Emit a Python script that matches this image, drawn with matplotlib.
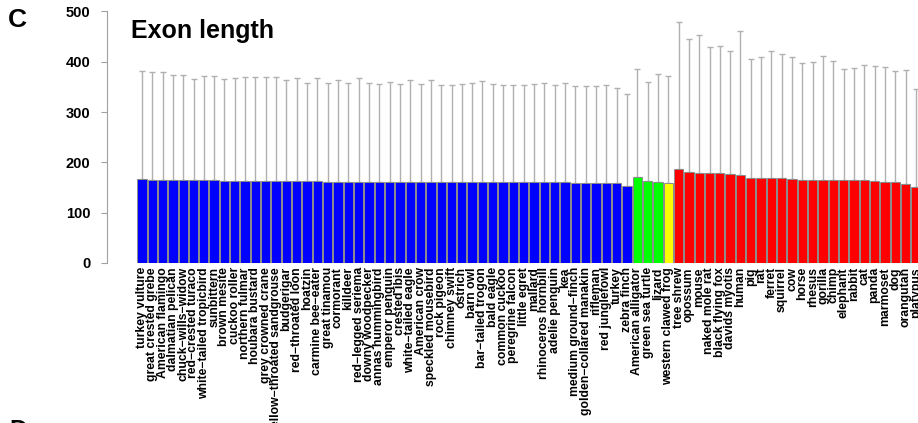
import matplotlib
matplotlib.use("Agg")
import matplotlib.pyplot as plt
import numpy as np

plt.rcParams["font.family"] = ["Liberation Sans", "DejaVu Sans"]
plt.rcParams["font.weight"] = "bold"

# Species, grouped by class (birds, reptiles, amphibian, mammals)
birds = [
    "turkey vulture", "great crested grebe", "American flamingo", "dalmatian pelican",
    "chuck\u2212wills\u2212widow", "red\u2212crested turaco", "white\u2212tailed tropicbird",
    "sunbittern", "brown mesite", "cuckoo roller", "northern fulmar", "houbara bustard",
    "grey crowned crane", "yellow\u2212throated sandgrouse", "budgerigar",
    "red\u2212throated loon", "hoatzin", "carmine bee\u2212eater", "great tinamou",
    "cormorant", "killdeer", "red\u2212legged seriema", "downy woodpecker",
    "annas hummingbird", "emperor penguin", "crested ibis", "white\u2212tailed eagle",
    "American crow", "speckled mousebird", "rock pigeon", "chimney swift", "ostrich",
    "barn owl", "bar\u2212tailed trogon", "bald eagle", "common cuckoo",
    "peregrine falcon", "little egret", "mallard", "rhinoceros hornbill",
    "adelie penguin", "kea", "medium ground\u2212finch", "golden\u2212collared manakin",
    "rifleman", "red junglefowl", "turkey", "zebra finch",
]
reptiles = ["American alligator", "green sea turtle", "lizard"]
amphibians = ["western clawed frog"]
mammals = [
    "tree shrew", "opossum", "mouse", "naked mole rat", "black flying fox",
    "davids myotis", "human", "pig", "rat", "ferret", "squirrel", "cow", "horse",
    "rhesus", "gorilla", "chimp", "elephant", "rabbit", "cat", "panda", "marmoset",
    "dog", "orangutan", "platypus",
]

# Mean exon length per species
mean_birds = [
    166.3, 166.0, 165.7, 165.5, 165.0, 164.8, 164.4, 164.2, 163.8, 163.6, 163.3, 163.1,
    163.0, 162.8, 162.5, 162.4, 162.2, 162.1, 161.9, 161.8, 161.7, 161.6, 161.5, 161.4,
    161.3, 161.2, 161.1, 161.0, 160.9, 160.9, 160.8, 160.8, 160.7, 160.7, 160.6, 160.6,
    160.5, 160.5, 160.4, 160.3, 160.2, 160.1, 160.0, 159.3, 159.0, 158.8, 158.6, 153.7,
]
mean_reptiles = [171.0, 163.7, 160.4]
mean_amphibians = [158.4]
mean_mammals = [
    186.2, 181.0, 179.6, 179.0, 178.3, 176.3, 174.3, 169.6, 169.0, 168.4, 168.4, 167.0,
    165.7, 165.0, 165.0, 164.7, 164.7, 164.7, 164.7, 163.5, 161.0, 160.4, 156.5, 150.5,
]

# Standard deviation of exon length per species
sd_birds = [
    214.7, 214.0, 214.3, 207.5, 208.0, 200.2, 206.6, 206.8, 201.2, 203.4, 205.7, 206.9,
    206.0, 206.2, 200.5, 205.6, 194.8, 205.9, 196.1, 202.2, 196.3, 206.4, 195.5, 193.6,
    198.7, 194.8, 202.9, 194.0, 203.1, 192.1, 192.2, 195.2, 197.3, 201.3, 195.4, 192.4,
    193.5, 193.5, 195.6, 196.7, 193.8, 196.9, 192.0, 192.7, 193.0, 194.2, 189.4, 181.3,
]
sd_reptiles = [214.0, 195.3, 215.6]
sd_amphibians = [212.6]
sd_mammals = [
    292.3, 265.0, 273.4, 250.0, 252.7, 244.7, 286.7, 235.4, 240.0, 253.1, 246.6, 243.0,
    232.3, 235.0, 246.0, 236.3, 220.3, 222.3, 229.3, 228.5, 228.0, 221.6, 226.5, 194.5,
]

group_colors = ["#0000ff", "#00ff00", "#ffff00", "#ff0000"]
yticks = [0, 100, 200, 300, 400, 500]

groups = [
    (birds, mean_birds, sd_birds),
    (reptiles, mean_reptiles, sd_reptiles),
    (amphibians, mean_amphibians, sd_amphibians),
    (mammals, mean_mammals, sd_mammals),
]
names, means, sds, colors = [], [], [], []
for (g_names, g_mean, g_sd), col in zip(groups, group_colors):
    names += g_names
    means += g_mean
    sds += g_sd
    colors += [col] * len(g_names)
means = np.array(means)
sds = np.array(sds)
x = np.arange(len(names))

W, H = 918, 423
fig = plt.figure(figsize=(W / 100, H / 100), dpi=100)
ax = fig.add_axes([107 / W, (H - 263) / H, (W - 107) / W, (263 - 11.5) / H])

# upper-only error bars, drawn beneath the bars
ax.errorbar(x, means, yerr=[np.zeros_like(sds), sds], fmt="none",
            ecolor="#b0b0b0", elinewidth=1.0, capsize=2.0, capthick=1.0, zorder=1)
ax.bar(x, means, width=0.9, color=colors, edgecolor="#8c8c8c", linewidth=0.7, zorder=2)

ax.set_ylim(0, 500)
ax.set_xlim((107 - 141.9) / 10.32, (918 - 141.9) / 10.32)
ax.set_yticks(yticks)
ax.set_yticklabels([str(v) for v in yticks], fontsize=10.5, fontweight="bold")
ax.set_xticks(x)
ax.set_xticklabels(names, rotation=90, fontsize=8.8, fontweight="bold", va="top", ha="center")
ax.tick_params(axis="x", length=0, pad=3)
ax.tick_params(axis="y", length=4, width=0.8, color="#a0a0a0", pad=8)
for side in ("top", "right", "bottom"):
    ax.spines[side].set_visible(False)
ax.spines["left"].set_color("#a0a0a0")
ax.spines["left"].set_linewidth(0.8)

fig.text(131 / W, (H - 38) / H, "Exon length", fontsize=18, fontweight="bold",
         ha="left", va="baseline")
fig.text(8 / W, (H - 27) / H, "C", fontsize=19, fontweight="bold",
         ha="left", va="baseline")
fig.text(9 / W, (H - 419) / H, "D", fontsize=18, fontweight="bold",
         ha="left", va="top")

fig.savefig("out.png", dpi=100)
